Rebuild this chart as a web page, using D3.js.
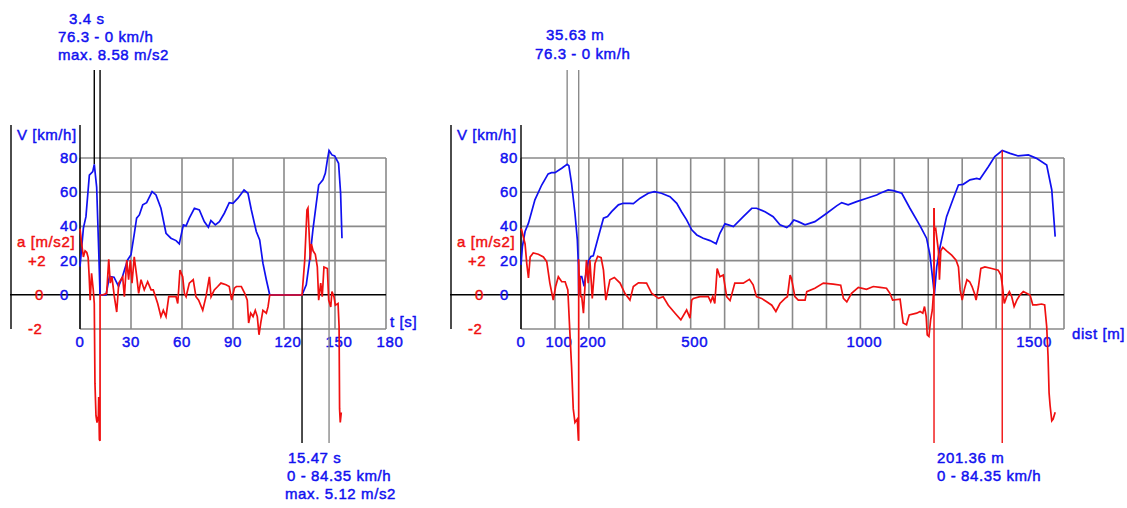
<!DOCTYPE html>
<html>
<head>
<meta charset="utf-8">
<script src="https://cdn.jsdelivr.net/npm/d3@7"></script>
<style>
  body { margin: 0; background: #fff; }
  text { font-family: "Liberation Sans", Arial, sans-serif; font-size: 15px; letter-spacing: 0.6px; stroke-width: 0.45px; }
  .blue { fill: #1010f0; stroke: #1010f0; }
  .red { fill: #f01010; stroke: #f01010; }
</style>
</head>
<body>
<div id="chart"></div>
<script>
// speed over time  [s, km/h]
var timeV = [0, 2, 3.5, 5.5, 7.5, 8.4, 9.8, 11, 11.8, 15.3, 17.3, 20, 22.7, 25, 28, 30, 32, 33.3, 34.9, 36.9, 39.2, 42.4, 44.7, 47.6, 50.6, 53.5, 56.5, 58.4, 60.8, 62.4, 64.3, 67.3, 70.2, 73.1, 75.5, 77, 79.6, 82, 84.9, 87.8, 90, 92.9, 96.5, 98.8, 100.8, 103.7, 105.7, 107.6, 109.6, 111.6, 130.6, 133.1, 135.1, 137, 139, 140.4, 142.9, 144.3, 145.5, 146.5, 148.2, 149.8, 152.1, 153.3, 154.1];
var speedT = [16.5, 39, 45.7, 70, 72, 76.3, 63, 26, 0, 0, 10.7, 10.3, 4.9, 10.7, 20.4, 23.4, 36, 44.8, 46.7, 52.6, 53.9, 60.3, 58.4, 50.6, 36, 33.1, 31.7, 29.8, 40.9, 40.3, 44.8, 50.6, 49.6, 42.8, 39.5, 43.4, 40.9, 42.8, 47.7, 53.9, 53.5, 56.5, 61.3, 59.4, 49.6, 37, 32.1, 18.5, 8.8, 0, 0, 5.8, 20.4, 38, 53.5, 64.2, 67.2, 71, 78.8, 84.35, 81.8, 81.2, 76.9, 59.4, 33.1];

// acceleration over time  [s, m/s2]
var timeA = [0, 1, 2, 3, 4, 4.8, 5.4, 6, 6.8, 7.8, 8.4, 8.8, 9.4, 10, 10.8, 11, 11.4, 11.8, 11.8, 13.3, 15.7, 16.9, 17.8, 18.8, 20.2, 21.6, 22.8, 25.1, 26.1, 27.5, 28.6, 29.6, 30.6, 31.9, 33.4, 34.5, 35.9, 37.8, 39.8, 41.8, 43.1, 45.7, 47.6, 49, 50.6, 52.2, 54.5, 56.5, 57.5, 58.8, 60.4, 61.4, 62.4, 64.3, 66.6, 68.2, 69.8, 72.2, 74.1, 76.1, 77.1, 79, 81, 82.9, 85.9, 87.8, 89.2, 90.8, 92, 94.9, 96.9, 98.4, 99.2, 100.4, 101.8, 103.1, 104.3, 105.3, 106.3, 107.6, 109.6, 110.6, 111.6, 130.6, 132.2, 133.5, 134.1, 134.7, 135.5, 136.1, 137.1, 138.4, 139.6, 140.4, 141.6, 142.5, 143.5, 145.5, 146.3, 147.5, 148.2, 149.4, 150.2, 151.8, 152.4, 152.7, 153.1, 153.7];
var accelT = [3.9, 3.0, 2.24, 2.6, 2.5, 2.2, 1.07, -0.3, 1.27, 0.3, -0.5, -5.2, -7.1, -7.5, -7.1, -6, -8.5, -8.58, 0, 0, 0.1, 2.1, 0.7, 1.07, -0.1, -1, 0.7, 1.07, -0.1, 2.05, 0.9, 2.05, 0.7, 2.24, 1.07, 0.1, 0.9, 0.3, 0.78, 0.3, 0.3, -0.5, -1.27, -0.9, -1.27, -0.1, -0.1, -0.1, -0.5, 1.46, 1.07, 0.1, -0.1, 0.7, 0.9, -0.1, -0.3, -0.9, -0.1, 1.07, -0.1, 0.3, 0.5, 0.7, 0.6, 0.5, -0.3, 0.4, 0.5, 0.5, 0.1, -0.3, -1.65, -1.07, -1.27, -0.9, -1.27, -2.34, -1.65, -0.9, -1.07, -0.7, 0, 0, 2.05, 5.0, 5.12, 3.8, 2.05, 3.0, 2.6, 2.4, 1.65, -0.3, 0.7, -0.1, 1.65, 1.56, -0.3, -0.7, 0.2, -0.1, -0.6, -0.5, -1.85, -6.7, -7.5, -6.9];

// speed over distance  [m, km/h]
var distV = [0, 4, 12, 22, 41, 61, 80, 90, 100, 120, 136, 141, 149, 159, 166, 169, 170, 175, 179, 186, 190, 198, 206, 213, 228, 243, 255, 267, 287, 301, 321, 331, 351, 375, 393, 414, 439, 459, 473, 488, 503, 518, 537, 557, 575, 586, 601, 611, 626, 655, 680, 694, 719, 743, 763, 783, 793, 804, 817, 837, 866, 901, 930, 945, 964, 989, 1019, 1048, 1058, 1082, 1097, 1122, 1146, 1176, 1195, 1205, 1215, 1218, 1225, 1235, 1254, 1274, 1289, 1303, 1323, 1343, 1352, 1377, 1396, 1418, 1441, 1465, 1495, 1519, 1549, 1564, 1574];
var speedD = [17.5, 28, 37, 41.9, 55.5, 64.2, 70.7, 71.4, 71.4, 74, 76.3, 75.5, 65.2, 47.7, 32.1, 17.5, 0, 10.7, 10.7, 4.9, 10.7, 19.5, 22.4, 22.8, 34, 44.8, 45.7, 48.6, 52.6, 53.5, 53.5, 53.3, 56.5, 59.4, 60.3, 59.4, 57.4, 53.5, 48.6, 43.8, 38, 35, 33.1, 31.7, 29.8, 36, 41.5, 40.9, 39.9, 45.7, 50.6, 50.6, 48.6, 45.7, 40.9, 39.3, 40.9, 43.8, 42.8, 40.9, 42.8, 47.7, 52, 53.9, 52.6, 54.5, 56.5, 58.4, 59.4, 61.3, 60.9, 59.4, 50.6, 40.3, 33.1, 23.4, 5.8, 0, 16.5, 28.2, 45.7, 56.5, 64.2, 64.6, 67.2, 68.1, 67.6, 74.9, 80.8, 84.35, 82.7, 81.2, 81.8, 79.8, 75.9, 61.3, 34];

// acceleration over distance  [m, m/s2]
var distA = [0, 1, 12, 17, 22, 27, 36, 51, 66, 76, 85, 95, 102, 110, 120, 130, 138, 144, 149, 154, 159, 166, 169, 170, 170, 170, 172, 174, 176, 179, 184, 189, 193, 198, 203, 210, 218, 226, 236, 243, 250, 262, 275, 292, 306, 321, 331, 346, 370, 385, 405, 419, 434, 454, 471, 488, 498, 503, 508, 527, 552, 559, 565, 571, 578, 586, 596, 606, 616, 630, 655, 673, 684, 694, 709, 724, 739, 751, 763, 778, 785, 793, 797, 807, 817, 837, 842, 866, 891, 920, 942, 950, 960, 974, 994, 1018, 1038, 1058, 1077, 1087, 1095, 1117, 1126, 1136, 1144, 1166, 1176, 1184, 1189, 1194, 1197, 1202, 1207, 1212, 1215, 1217, 1217, 1218, 1222, 1225, 1230, 1233, 1237, 1243, 1254, 1269, 1282, 1289, 1294, 1300, 1306, 1314, 1322, 1329, 1336, 1341, 1348, 1355, 1367, 1387, 1406, 1414, 1419, 1424, 1431, 1439, 1446, 1453, 1461, 1470, 1480, 1490, 1500, 1508, 1519, 1534, 1543, 1549, 1553, 1556, 1559, 1564, 1568, 1574];
var accelD = [3.8, 3.9, 3.0, 1.85, 1.0, 2.24, 2.47, 2.4, 2.24, 1.95, 0.7, -0.3, 0.5, 1.07, 0.78, 0.78, 0.3, -2.2, -4.2, -6.7, -7.5, -7.3, -8.5, -8.58, 0, 2.1, 0.7, 1.07, -0.1, -0.1, -1.07, 0.7, 2.05, 0.7, 2.05, -0.2, 1.85, 2.28, 2.2, 1.46, -0.3, 0.9, 1.03, 0.7, 0.1, -0.3, 0.5, 0.72, 0.7, 0.1, -0.2, -0.1, -0.6, -1.07, -1.46, -0.88, -1.36, -0.3, -0.2, -0.1, -0.1, -0.4, -0.1, -0.5, 1.56, 1.07, 1.17, -0.1, -0.33, 0.7, 0.7, 0.92, 0.6, -0.1, -0.2, -0.4, -0.6, -0.97, -0.5, -0.2, -0.1, 1.17, 0.97, -0.1, -0.3, -0.3, 0.2, 0.4, 0.7, 0.64, 0.58, -0.2, -0.4, 0.1, 0.45, 0.33, 0.5, 0.45, 0.4, 0.1, -0.3, -0.25, -1.65, -1.75, -1.17, -1.07, -0.97, -1.07, -0.68, -1.27, -2.34, -2.44, -1.46, -0.88, 0, 0, 5.12, 3.8, 3.9, 3.4, 2.6, 0.9, 2.6, 2.8, 2.6, 2.34, 2.05, 1.65, 0.3, -0.3, 0.3, 0.9, 0.78, 0.5, 0.1, -0.3, 0.5, 1.56, 1.65, 1.56, 1.46, 1.17, 0.5, -0.5, -0.1, 0.2, -0.1, -0.68, -0.3, 0, 0.2, 0.1, 0, -0.58, -0.58, -0.53, -0.58, -1.85, -3.6, -5.75, -6.5, -7.4, -7.3, -6.9];

var speedTicks = [80, 60, 40, 20, 0];
var accelTicks = ['+2', '0', '-2'];
var timeTicks = [0, 30, 60, 90, 120, 150, 180];
var distTicks = [0, 100, 200, 500, 1000, 1500];
var distGrid = d3.range(0, 1601, 100);

// braking / acceleration events: [start, end], text
var brakeT = [8.4, 11.8], brakeTText = ['3.4 s', '76.3 - 0 km/h', 'max. 8.58 m/s2'];
var accT = [130.6, 146.5], accTText = ['15.47 s', '0 - 84.35 km/h', 'max. 5.12 m/s2'];
var brakeD = [136, 170], brakeDText = ['35.63 m', '76.3 - 0 km/h'];
var accD = [1217, 1418], accDText = ['201.36 m', '0 - 84.35 km/h'];

var W = 1127, H = 508;
var svg = d3.select('#chart').append('svg').attr('width', W).attr('height', H);

var yV = d3.scaleLinear().domain([-20, 80]).range([329, 158]);
var yA = d3.scaleLinear().domain([-2, 2]).range([329, 261]);

function zip(a, b) {
    return a.map(function(d, i) { return [d, b[i]]; });
}

function panel(ox, x, gridX, ticks, unitLabel, unitPos) {
    var g = svg.append('g');
    var x0 = x.range()[0], x1 = x.range()[1];

    // grid
    g.selectAll('.vg').data(gridX).enter().append('line')
        .attr('x1', function(d) { return x(d); }).attr('x2', function(d) { return x(d); })
        .attr('y1', yV(80)).attr('y2', yV(-20))
        .attr('stroke', '#8a8a8a').attr('stroke-width', 1.6);
    g.selectAll('.hg').data([80, 60, 40, 20, -20]).enter().append('line')
        .attr('x1', x0).attr('x2', x1)
        .attr('y1', function(d) { return yV(d); }).attr('y2', function(d) { return yV(d); })
        .attr('stroke', '#8a8a8a').attr('stroke-width', 1.6);

    // axes
    g.append('line').attr('x1', ox + 11).attr('x2', ox + 11).attr('y1', 125).attr('y2', yV(-20))
        .attr('stroke', '#000').attr('stroke-width', 1.4);
    g.append('line').attr('x1', x0).attr('x2', x0).attr('y1', 125).attr('y2', yV(-20))
        .attr('stroke', '#000').attr('stroke-width', 1.4);
    g.append('line').attr('x1', ox + 10).attr('x2', x1).attr('y1', yV(0)).attr('y2', yV(0))
        .attr('stroke', '#000').attr('stroke-width', 1.4);

    // labels
    g.append('text').attr('class', 'blue').attr('x', ox + 17).attr('y', 140).text('V [km/h]');
    g.selectAll('.vt').data(speedTicks).enter().append('text').attr('class', 'blue')
        .attr('x', ox + 60).attr('y', function(d) { return yV(d) + 5; }).text(function(d) { return d; });
    g.append('text').attr('class', 'red').attr('x', ox + 17).attr('y', 247).text('a [m/s2]');
    g.selectAll('.at').data(accelTicks).enter().append('text').attr('class', 'red')
        .attr('x', function(d) { return ox + (d === '0' ? 35 : 28); })
        .attr('y', function(d) { return yA(+d) + 5; }).text(function(d) { return d; });
    g.selectAll('.xt').data(ticks).enter().append('text').attr('class', 'blue')
        .attr('text-anchor', 'middle')
        .attr('x', function(d) { return x(d) + (d >= 100 ? 4 : 0); }).attr('y', 347)
        .text(function(d) { return d; });
    g.append('text').attr('class', 'blue').attr('x', unitPos[0]).attr('y', unitPos[1]).text(unitLabel);

    return g;
}

function curves(g, x, vData, aData) {
    var lv = d3.line().x(function(d) { return x(d[0]); }).y(function(d) { return yV(d[1]); });
    var la = d3.line().x(function(d) { return x(d[0]); }).y(function(d) { return yA(d[1]); });
    g.append('path').attr('d', lv(vData)).attr('fill', 'none').attr('stroke', '#1010f0').attr('stroke-width', 1.7);
    g.append('path').attr('d', la(aData)).attr('fill', 'none').attr('stroke', '#f01010').attr('stroke-width', 1.7);
}

function marker(g, xp, y1, y2, color) {
    g.append('line').attr('x1', xp).attr('x2', xp).attr('y1', y1).attr('y2', y2)
        .attr('stroke', color).attr('stroke-width', 1.4);
}

function note(g, lines, xs, ys) {
    lines.forEach(function(t, i) {
        g.append('text').attr('class', 'blue').attr('x', xs[i]).attr('y', ys[i]).text(t);
    });
}

// left: time
var xT = d3.scaleLinear().domain([0, 180]).range([80, 386]);
var gl = panel(0, xT, timeTicks, timeTicks, 't [s]', [390, 327]);
marker(gl, xT(brakeT[0]), 70, yV(76.3), '#000');
marker(gl, xT(brakeT[1]), 70, yV(0), '#000');
marker(gl, xT(accT[0]), yV(0), 443, '#000');
marker(gl, xT(accT[1]), yV(84.35), 443, '#8a8a8a');
curves(gl, xT, zip(timeV, speedT), zip(timeA, accelT));
note(gl, brakeTText, [69, 58, 58], [24, 42, 60]);
note(gl, accTText, [288, 287, 285], [463, 481, 499]);

// right: distance
var xD = d3.scaleLinear().domain([0, 1600]).range([521, 1064]);
var gr = panel(440, xD, distGrid, distTicks, 'dist [m]', [1072, 339]);
marker(gr, xD(brakeD[0]), 70, yV(76.3), '#8a8a8a');
marker(gr, xD(brakeD[1]), 70, yV(0), '#8a8a8a');
curves(gr, xD, zip(distV, speedD), zip(distA, accelD));
marker(gr, xD(accD[0]), yA(5.12), 443, '#f01010');
marker(gr, xD(accD[1]), yV(84.35), 443, '#f01010');
note(gr, brakeDText, [546, 535], [40, 59]);
note(gr, accDText, [937, 937], [463, 481]);
</script>
</body>
</html>
